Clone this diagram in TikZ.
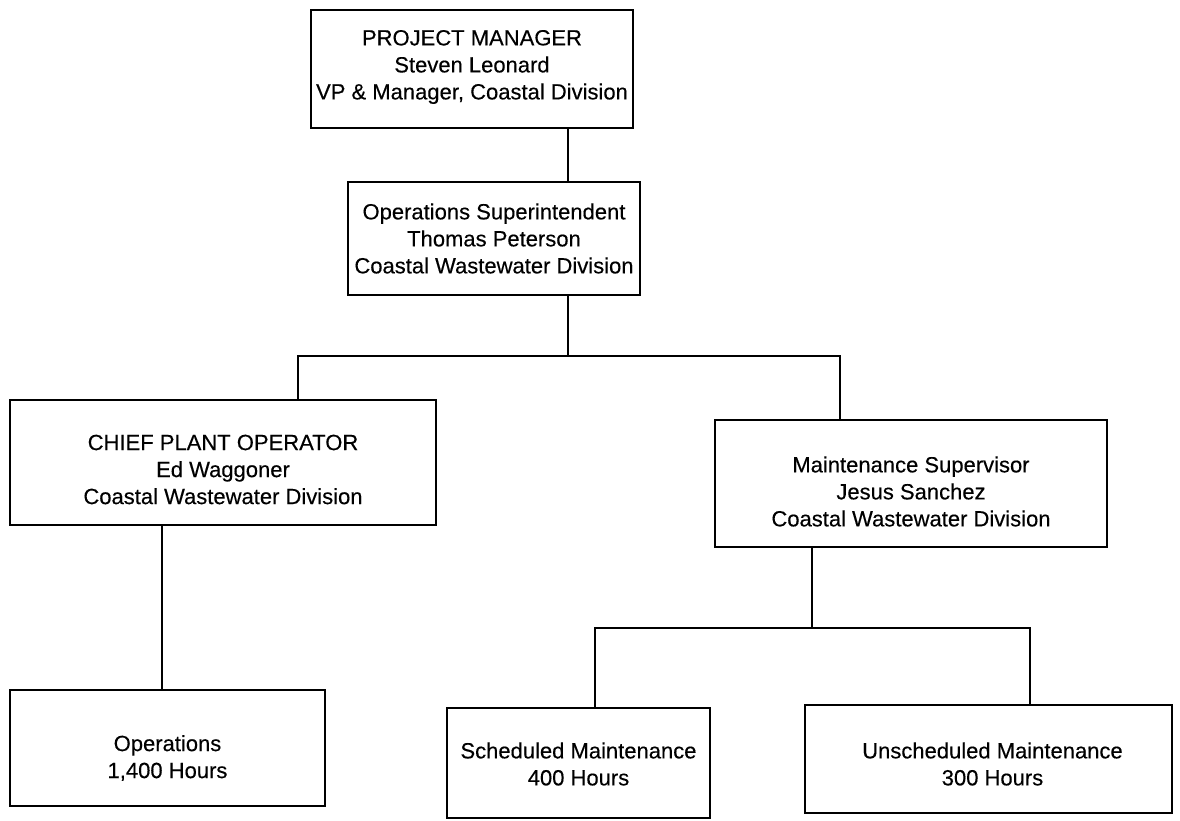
\documentclass[tikz,border=0pt]{standalone}
\usepackage{fontspec}
\setmainfont{Liberation Sans}[FakeBold=0.3]
\begin{document}
\begin{tikzpicture}[x=1pt,y=-1pt,
  box/.style={draw, line width=1.8pt, rectangle, inner sep=0pt},
  txt/.style={align=center, inner sep=0pt, font=\fontsize{22}{27}\selectfont},
  conn/.style={line width=1.8pt}]
\useasboundingbox[fill=white] (0,0) rectangle (1180,821);
\node[box, minimum width=322pt, minimum height=118pt,
  label={[txt, yshift=2pt]center:{PROJECT MANAGER\\Steven Leonard\\VP \& Manager, Coastal Division}}]
  (pm) at (472,69) {};
\node[box, minimum width=292pt, minimum height=113pt,
  label={[txt]center:{Operations Superintendent\\Thomas Peterson\\Coastal Wastewater Division}}]
  (os) at (494,238.5) {};
\node[box, minimum width=426pt, minimum height=125pt,
  label={[txt, yshift=-7pt]center:{CHIEF PLANT OPERATOR\\Ed Waggoner\\Coastal Wastewater Division}}]
  (cpo) at (223,462.5) {};
\node[box, minimum width=392pt, minimum height=127pt,
  label={[txt, yshift=-8pt]center:{Maintenance Supervisor\\Jesus Sanchez\\Coastal Wastewater Division}}]
  (ms) at (911,483.5) {};
\node[box, minimum width=315pt, minimum height=116pt,
  label={[txt, yshift=-10pt]center:{Operations\\1,400 Hours}}]
  (ops) at (167.5,748) {};
\node[box, minimum width=263pt, minimum height=110pt,
  label={[txt, yshift=-1pt]center:{Scheduled Maintenance\\400 Hours}}]
  (sch) at (578.5,763) {};
\node[box, minimum width=367pt, minimum height=108pt,
  label={[txt, xshift=4pt, yshift=-5pt]center:{Unscheduled Maintenance\\300 Hours}}]
  (uns) at (988.5,759) {};
\coordinate (j1) at (568,356);
\coordinate (jl) at (298,356);
\coordinate (jr) at (840,356);
\coordinate (j2) at (812,628);
\coordinate (j2l) at (595,628);
\coordinate (j2r) at (1030,628);
\coordinate (jo) at (162,600);
\draw[conn] (pm.south -| j1) -- (os.north -| j1);
\draw[conn] (os.south -| j1) -- (j1);
\draw[conn] (cpo.north -| jl) -- (jl) -- (jr) -- (ms.north -| jr);
\draw[conn] (ms.south -| j2) -- (j2);
\draw[conn] (sch.north -| j2l) -- (j2l) -- (j2r) -- (uns.north -| j2r);
\draw[conn] (cpo.south -| jo) -- (ops.north -| jo);
\end{tikzpicture}
\end{document}
